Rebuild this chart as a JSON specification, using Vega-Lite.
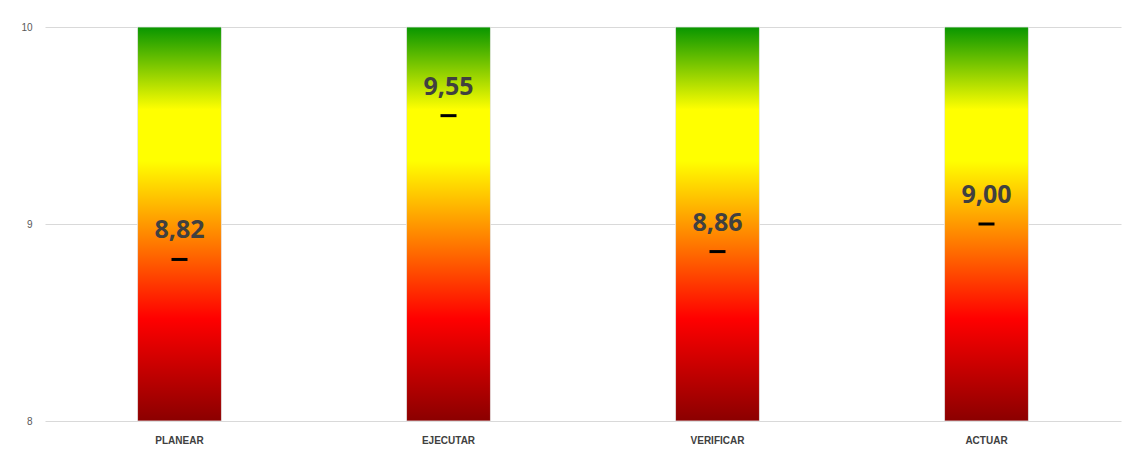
{
  "$schema": "https://vega.github.io/schema/vega-lite/v6.json",
  "width": 1076,
  "height": 394,
  "autosize": {"type": "none"},
  "padding": {"left": 45, "top": 27, "right": 6, "bottom": 34},
  "background": "#ffffff",
  "config": {
    "view": {"stroke": null},
    "locale": {"number": {"decimal": ",", "thousands": ".", "grouping": [3], "currency": ["", " €"]}},
    "font": "Open Sans",
    "axisY": {
      "title": null,
      "values": [8, 9, 10],
      "format": "d",
      "ticks": false,
      "domain": false,
      "grid": true,
      "gridColor": "#d9d9d9",
      "gridWidth": 1,
      "labelOverlap": false,
      "labelFont": "Liberation Sans",
      "labelFontSize": 10,
      "labelColor": "#595959",
      "labelPadding": 13
    }
  },
  "data": {
    "values": [
      {"fase": "PLANEAR", "valor": 8.82},
      {"fase": "EJECUTAR", "valor": 9.55},
      {"fase": "VERIFICAR", "valor": 8.86},
      {"fase": "ACTUAR", "valor": 9.0}
    ]
  },
  "encoding": {
    "x": {
      "field": "fase",
      "type": "nominal",
      "sort": null,
      "scale": {"paddingInner": 0.688, "paddingOuter": 0.344},
      "axis": {
        "title": null,
        "labelAngle": 0,
        "ticks": false,
        "domain": false,
        "labelFont": "Liberation Sans",
        "labelFontWeight": "bold",
        "labelFontSize": 10,
        "labelColor": "#404040",
        "labelPadding": 14
      }
    }
  },
  "layer": [
    {
      "mark": {
        "type": "bar",
        "stroke": "#e6e6e6",
        "strokeWidth": 0.8,
        "color": {
          "gradient": "linear",
          "x1": 0, "y1": 1, "x2": 0, "y2": 0,
          "stops": [
            {"offset": 0, "color": "#8b0000"},
            {"offset": 0.26, "color": "#ff0000"},
            {"offset": 0.49, "color": "#ff9200"},
            {"offset": 0.66, "color": "#ffff00"},
            {"offset": 0.79, "color": "#ffff00"},
            {"offset": 1, "color": "#089600"}
          ]
        }
      },
      "encoding": {
        "y": {
          "datum": 10,
          "type": "quantitative",
          "scale": {"domain": [8, 10], "nice": false, "zero": false},
          "axis": {"values": [8, 9, 10], "labelOverlap": false}
        },
        "y2": {"datum": 8}
      }
    },
    {
      "mark": {"type": "tick", "color": "#000000", "size": 16, "thickness": 3, "opacity": 1},
      "encoding": {
        "y": {"field": "valor", "type": "quantitative"}
      }
    },
    {
      "mark": {
        "type": "text",
        "font": "Open Sans",
        "fontWeight": "bold",
        "fontSize": 25,
        "color": "#404040",
        "baseline": "alphabetic",
        "dy": -21
      },
      "encoding": {
        "y": {"field": "valor", "type": "quantitative"},
        "text": {"field": "valor", "type": "quantitative", "format": ".2f"}
      }
    }
  ]
}
